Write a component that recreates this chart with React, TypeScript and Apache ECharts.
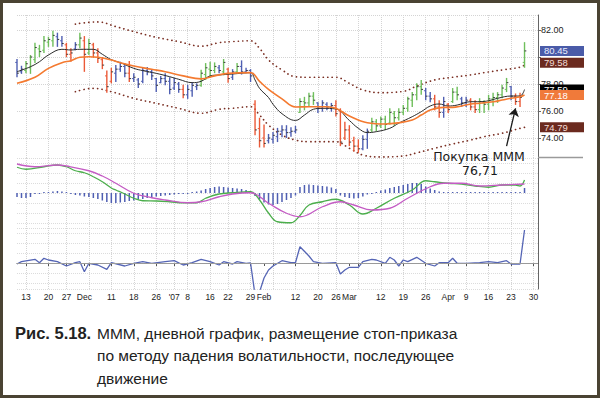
import React, { useEffect, useRef } from "react";
import * as echarts from "echarts";

// ---- trading days (category axis) ----
const MONTH_DAYS: [string, number[]][] = [
  ["2006-11", [9, 10, 13, 14, 15, 16, 17, 20, 21, 22, 24, 27, 28, 29, 30]],
  ["2006-12", [1, 4, 5, 6, 7, 8, 11, 12, 13, 14, 15, 18, 19, 20, 21, 22, 26, 27, 28, 29]],
  ["2007-01", [3, 4, 5, 8, 9, 10, 11, 12, 16, 17, 18, 19, 22, 23, 24, 25, 26, 29, 30, 31]],
  ["2007-02", [1, 2, 5, 6, 7, 8, 9, 12, 13, 14, 15, 16, 20, 21, 22, 23, 26, 27, 28]],
  ["2007-03", [1, 2, 5, 6, 7, 8, 9, 12, 13, 14, 15, 16, 19, 20, 21, 22, 23, 26, 27, 28, 29, 30]],
  ["2007-04", [2, 3, 4, 5, 9, 10, 11, 12, 13, 16, 17, 18, 19, 20, 23, 24, 25, 26, 27, 30]],
  ["2007-05", [1]],
];
const DATES: string[] = MONTH_DAYS.flatMap(([m, ds]) =>
  ds.map((d) => `${m}-${String(d).padStart(2, "0")}`)
);

const TICK_LABELS: [string, string][] = [
  ["2006-11-13", "13"], ["2006-11-20", "20"], ["2006-11-27", "27"], ["2006-12-01", "Dec"],
  ["2006-12-11", "11"], ["2006-12-18", "18"], ["2006-12-26", "26"], ["2007-01-03", "'07"],
  ["2007-01-08", "8"], ["2007-01-16", "16"], ["2007-01-22", "22"], ["2007-01-29", "29"],
  ["2007-02-01", "Feb"], ["2007-02-12", "12"], ["2007-02-20", "20"], ["2007-02-26", "26"],
  ["2007-03-01", "Mar"], ["2007-03-12", "12"], ["2007-03-19", "19"], ["2007-03-26", "26"],
  ["2007-04-02", "Apr"], ["2007-04-09", "9"], ["2007-04-16", "16"], ["2007-04-23", "23"],
  ["2007-04-30", "30"],
];
const WEEK_STARTS: string[] = [
  "2006-11-13", "2006-11-20", "2006-11-27", "2006-12-04", "2006-12-11", "2006-12-18",
  "2006-12-26", "2007-01-03", "2007-01-08", "2007-01-16", "2007-01-22", "2007-01-29",
  "2007-02-05", "2007-02-12", "2007-02-20", "2007-02-26", "2007-03-05", "2007-03-12",
  "2007-03-19", "2007-03-26", "2007-04-02", "2007-04-09", "2007-04-16", "2007-04-23",
  "2007-04-30",
];
const PRICE_TICKS_HIDDEN = [80]; // covered by the value boxes in the original

// ---- price bars ----
const HIGH = [
  79.85, 79.35, 79.7, 80.15, 81.05, 80.9, 81.55, 81.5, 81.95, 81.8,
  81.55, 81.05, 80.65, 81.1, 81.8, 81.55, 81.35, 81.05, 80.65, 80.0,
  79.0, 79.2, 79.4, 79.65, 79.55, 79.7, 78.8, 78.45, 79.25, 79.25,
  79.05, 78.45, 78.6, 78.8, 78.5, 78.45, 78.15, 77.95, 77.95, 78.15,
  78.05, 79.05, 79.55, 79.65, 79.6, 79.4, 79.85, 79.2, 79.1, 79.55,
  79.75, 79.2, 79.1, 76.8, 75.5, 75.0, 74.3, 74.45, 74.75, 74.95,
  74.95, 74.8, 74.9, 76.95, 77.05, 77.35, 77.4, 76.65, 76.8, 76.65,
  76.6, 76.8, 76.2, 75.2, 74.95, 74.1, 73.9, 74.2, 74.7, 75.5,
  75.4, 75.6, 75.65, 76.2, 76.0, 76.2, 76.45, 77.05, 77.4, 78.05,
  78.3, 77.7, 77.4, 77.2, 76.8, 77.05, 76.6, 77.7, 77.8, 77.05,
  77.05, 76.95, 76.8, 76.95, 76.8, 77.2, 77.35, 77.4, 77.95, 78.45,
  77.85, 77.3, 77.35, 81.1,
];
const LOW = [
  78.5, 78.75, 78.8, 78.75, 79.55, 80.0, 80.3, 80.75, 80.75, 80.75,
  80.75, 80.0, 79.65, 80.5, 80.65, 78.9, 80.15, 79.95, 79.55, 79.1,
  77.35, 78.05, 78.15, 78.9, 78.5, 78.15, 78.15, 77.7, 78.05, 78.65,
  78.3, 77.4, 78.05, 77.9, 77.25, 77.55, 77.35, 76.95, 76.9, 77.05,
  77.55, 77.8, 78.3, 78.5, 78.8, 78.8, 78.65, 78.1, 78.3, 78.8,
  78.7, 78.8, 78.15, 74.2, 73.3, 73.3, 73.6, 73.6, 73.7, 74.05,
  74.0, 74.1, 74.35, 75.85, 76.05, 76.3, 76.45, 75.85, 75.95, 76.05,
  75.95, 75.6, 73.4, 73.85, 73.4, 73.0, 72.9, 73.1, 73.2, 74.45,
  74.5, 74.75, 74.6, 75.0, 74.9, 75.3, 75.7, 75.95, 76.3, 76.8,
  77.2, 76.8, 76.65, 76.05, 75.5, 75.5, 75.85, 76.6, 76.8, 76.3,
  76.3, 76.05, 75.85, 75.85, 75.85, 76.05, 76.35, 76.6, 76.95, 77.4,
  76.8, 76.45, 76.3, 79.2,
];
const OPEN = [
  79.6, 78.9, 79.0, 79.2, 79.8, 80.6, 80.5, 81.1, 81.2, 81.5,
  81.2, 80.9, 80.2, 80.6, 80.9, 81.2, 80.3, 80.9, 80.3, 79.8,
  78.6, 78.2, 78.8, 79.1, 79.3, 78.8, 78.4, 78.3, 78.2, 79.0,
  78.9, 78.4, 78.1, 78.4, 78.2, 77.7, 78.0, 77.6, 77.2, 77.5,
  77.8, 77.9, 78.7, 79.1, 79.0, 79.2, 78.9, 79.1, 78.5, 78.9,
  79.3, 78.9, 79.0, 76.5, 74.7, 74.0, 73.8, 73.9, 74.1, 74.5,
  74.6, 74.4, 74.5, 75.9, 76.7, 76.6, 77.1, 76.6, 76.2, 76.5,
  76.3, 76.4, 76.0, 74.0, 74.6, 73.8, 73.4, 73.2, 73.9, 74.6,
  75.2, 74.9, 75.4, 75.1, 75.8, 75.5, 75.9, 76.2, 76.8, 77.2,
  77.8, 77.5, 77.1, 76.9, 76.3, 75.9, 76.5, 76.7, 77.4, 76.9,
  76.6, 76.8, 76.3, 76.1, 76.6, 76.5, 76.9, 77.0, 77.2, 77.6,
  77.8, 77.1, 76.7, 79.6,
];
const CLOSE = [
  78.8, 79.1, 79.5, 80.0, 80.7, 80.4, 81.2, 81.3, 81.6, 81.3,
  81.0, 80.2, 80.3, 80.9, 81.4, 80.2, 81.0, 80.3, 79.9, 79.4,
  77.8, 78.9, 79.1, 79.3, 78.8, 78.4, 78.5, 78.0, 79.0, 78.9,
  78.6, 77.9, 78.4, 78.2, 77.6, 78.1, 77.6, 77.2, 77.6, 77.9,
  77.9, 78.8, 79.2, 79.0, 79.3, 79.0, 79.6, 78.4, 78.9, 79.3,
  78.9, 79.0, 78.6, 74.6, 73.8, 73.6, 74.0, 74.2, 74.5, 74.6,
  74.4, 74.5, 74.6, 76.7, 76.6, 77.1, 76.8, 76.2, 76.6, 76.3,
  76.4, 75.8, 73.7, 74.6, 73.7, 73.4, 73.2, 73.9, 74.5, 75.2,
  74.9, 75.4, 75.0, 75.9, 75.5, 75.9, 76.2, 76.9, 77.2, 77.8,
  77.6, 77.1, 76.9, 76.3, 75.9, 76.7, 76.1, 77.4, 77.2, 76.6,
  76.8, 76.3, 76.1, 76.7, 76.5, 76.9, 77.0, 77.2, 77.7, 78.1,
  77.1, 76.7, 77.0, 80.45,
];
// Elder impulse colour of each bar: g = green, b = blue, r = red
const IMPULSE =
  "bbgggggggb" + "brrbgrgrrr" + "rrbbbrbbbb" + "bbbbbbbrbb" + "bggggbgrbg" +
  "bbbrrrbbbb" + "bbbggggbbb" + "brrrrrrbbg" + "gggggggggg" + "gbbrrbrggb" +
  "brrggggggg" + "brrg";

// ---- overlays: [day index, value] ----
const EMA_FAST: [number, number][] = [
  [0, 78.91], [3, 79.28], [5, 79.65], [7, 80.15], [10, 80.57], [12, 80.52], [14, 80.57],
  [17, 80.57], [19, 80.2], [21, 79.8], [23, 79.58], [26, 79.16], [28, 78.99], [31, 78.79],
  [34, 78.54], [36, 78.35], [39, 78.1], [41, 78.2], [43, 78.6], [45, 78.67], [48, 78.74],
  [52, 78.84], [53, 78.3], [54, 77.68], [56, 77.0], [57, 76.5], [59, 75.8], [62, 75.3],
  [64, 75.7], [66, 76.13], [68, 76.2], [71, 76.15], [74, 75.3], [76, 74.72], [78, 74.4],
  [80, 74.47], [83, 74.72], [85, 75.1], [88, 75.58], [90, 75.95], [92, 76.37], [94, 76.52],
  [96, 76.37], [98, 76.44], [101, 76.69], [103, 76.69], [105, 76.76], [107, 76.94],
  [110, 77.11], [112, 77.11], [113, 77.59],
];
const EMA_SLOW: [number, number][] = [
  [0, 78.05], [4, 78.5], [7, 79.16], [10, 79.58], [12, 79.73], [14, 79.98], [16, 80.02],
  [18, 79.98], [21, 79.78], [23, 79.58], [26, 79.33], [30, 79.09], [33, 78.91], [37, 78.6],
  [41, 78.38], [44, 78.6], [47, 78.79], [52, 78.84], [54, 78.2], [56, 77.6], [59, 76.9],
  [62, 76.3], [65, 76.32], [69, 76.32], [71, 76.2], [74, 75.63], [78, 75.13], [82, 75.04],
  [85, 75.13], [88, 75.33], [90, 75.7], [92, 76.07], [95, 76.27], [97, 76.27], [99, 76.37],
  [101, 76.52], [103, 76.57], [106, 76.69], [108, 76.81], [110, 76.94], [112, 77.05],
  [113, 77.18],
];
const UPPER_BAND: [number, number][] = [
  [13, 82.44], [18, 82.6], [22, 82.25], [26, 81.88], [31, 81.46], [36, 81.14], [41, 80.8],
  [45, 81.06], [48, 81.14], [52, 81.2], [54, 80.64], [56, 79.78], [59, 79.04], [62, 78.54],
  [65, 78.5], [71, 78.5], [74, 78.05], [77, 77.56], [81, 77.36], [86, 77.45], [89, 77.85],
  [93, 78.3], [97, 78.5], [101, 78.67], [104, 78.84], [108, 79.04], [112, 79.24], [113, 79.4],
];
const LOWER_BAND: [number, number][] = [
  [13, 77.43], [17, 77.68], [21, 77.43], [26, 76.94], [31, 76.57], [36, 76.2], [41, 75.83],
  [45, 76.13], [48, 76.2], [52, 76.32], [54, 75.7], [56, 74.96], [59, 74.22], [62, 73.85],
  [65, 73.73], [71, 73.73], [74, 73.24], [77, 72.74], [81, 72.6], [86, 72.67], [89, 72.9],
  [93, 73.24], [97, 73.56], [101, 73.85], [104, 74.1], [108, 74.35], [112, 74.72], [113, 74.79],
];
const LAST_PRICE = 80.45;
const LAST_UPPER = 79.58;
const LAST_FAST = 77.59;
const LAST_SLOW = 77.18;
const LAST_LOWER = 74.79;
const BUY_NOTE = ["Покупка МММ", "76,71"];

// ---- MACD panel ----
const MACD_LINE: [number, number][] = [
  [0, 1.03], [2, 0.95], [6, 1.05], [9, 1.12], [11, 1.05], [13, 0.89], [15, 0.81], [17, 0.65],
  [19, 0.45], [21, 0.2], [22, 0.12], [24, -0.04], [26, -0.21], [28, -0.31], [31, -0.32],
  [34, -0.35], [37, -0.39], [40, -0.39], [42, -0.21], [45, -0.04], [48, 0.01], [52, 0.05],
  [54, -0.28], [56, -0.8], [58, -1.15], [61, -1.19], [63, -0.9], [65, -0.48], [68, -0.35],
  [71, -0.25], [74, -0.48], [77, -0.84], [80, -0.61], [84, -0.21], [88, 0.12], [91, 0.49],
  [93, 0.45], [96, 0.39], [99, 0.36], [102, 0.28], [105, 0.23], [108, 0.32], [111, 0.32],
  [112, 0.28], [113, 0.52],
];
const SIGNAL_LINE: [number, number][] = [
  [0, 1.16], [4, 1.05], [9, 1.12], [11, 1.08], [16, 0.89], [19, 0.68], [22, 0.39], [26, -0.01],
  [30, -0.19], [33, -0.28], [38, -0.39], [41, -0.35], [45, -0.15], [48, -0.04], [52, 0.01],
  [56, -0.41], [60, -0.81], [63, -0.95], [68, -0.55], [72, -0.35], [75, -0.48], [79, -0.68],
  [83, -0.61], [87, -0.21], [92, 0.25], [95, 0.39], [99, 0.39], [103, 0.28], [108, 0.32],
  [113, 0.36],
];
const HISTOGRAM = [
  -0.16, -0.2, -0.2, -0.16, -0.04, -0.04, 0.04, 0.04, 0.06, 0.08,
  0.06, 0.04, -0.04, -0.08, -0.1, -0.14, -0.16, -0.2, -0.24, -0.3,
  -0.36, -0.4, -0.4, -0.38, -0.36, -0.32, -0.3, -0.26, -0.24, -0.2,
  -0.18, -0.14, -0.12, -0.1, -0.08, -0.06, -0.04, -0.04, -0.04, 0.04,
  0.06, 0.1, 0.16, 0.2, 0.24, 0.26, 0.24, 0.22, 0.2, 0.18,
  0.16, 0.12, 0.08, -0.12, -0.26, -0.38, -0.46, -0.48, -0.44, -0.36,
  -0.28, -0.2, -0.1, 0.24, 0.32, 0.34, 0.32, 0.3, 0.28, 0.26,
  0.22, 0.16, -0.1, -0.16, -0.2, -0.22, -0.2, -0.14, -0.06, -0.04,
  0.04, 0.1, 0.14, 0.2, 0.24, 0.28, 0.32, 0.36, 0.4, 0.4,
  0.36, 0.26, 0.18, 0.12, 0.06, 0.04, 0.04, 0.04, 0.04, 0.04,
  0.04, 0.04, 0.04, 0.04, 0.04, 0.04, 0.04, 0.04, 0.04, 0.04,
  0.04, 0.04, 0.04, 0.2,
];

// ---- Force index panel ----
const FORCE_INDEX: [number, number][] = [
  [0, -0.1], [1, 0.13], [4, 0.37], [5, 0.03], [6, 0.47], [7, 0.3], [9, 0.13], [11, -0.3],
  [13, 0.03], [14, 0.13], [15, -0.87], [16, -0.03], [18, -0.2], [20, -0.63], [21, 0.03],
  [24, -0.3], [26, -0.03], [28, 0.13], [30, -0.03], [33, 0.13], [35, 0.23], [37, -0.2],
  [39, 0.03], [41, 0.37], [43, 0.13], [45, -0.2], [46, 0.13], [48, -0.1], [49, 0.13],
  [51, -0.03], [52, 0.0], [53, -3.2], [54, -2.9], [55, -1.5], [56, -0.7], [57, -0.3],
  [59, 0.23], [61, 0.03], [62, 0.03], [63, 1.63], [65, 0.7], [66, 0.13], [68, -0.03],
  [71, 0.03], [72, -1.1], [73, -0.7], [74, -0.43], [76, -0.43], [77, 0.13], [79, 0.37],
  [80, 0.3], [82, -0.03], [83, 0.57], [84, 0.3], [85, -0.3], [86, 0.3], [87, 0.13],
  [89, 0.57], [91, -0.03], [93, -0.3], [94, 0.03], [96, 0.03], [97, 0.47], [98, -0.03],
  [100, -0.03], [103, 0.03], [105, 0.13], [107, 0.03], [109, 0.23], [110, -0.1],
  [112, -0.1], [113, 3.3],
];

const CAPTION_LABEL = "Рис. 5.18.";
const CAPTION_LINES = [
  "МММ, дневной график, размещение стоп-приказа",
  "по методу падения волатильности, последующее",
  "движение",
];

const IMPULSE_COLORS: Record<string, string> = { g: "#6fbf5c", b: "#4f5fb2", r: "#eb5a38" };
const FONT = "Liberation Sans, Arial, sans-serif";

export default function App() {
  const ref = useRef<HTMLDivElement>(null);

  useEffect(() => {
    if (!ref.current) return;
    const chart = echarts.init(ref.current, null, { renderer: "svg" });

    const labelMap = new Map(TICK_LABELS);
    const weekSet = new Set(WEEK_STARTS);
    const bars = HIGH.map((h, i) => [i, OPEN[i], CLOSE[i], LOW[i], h, "gbr".indexOf(IMPULSE[i])]);
    const colorByCode = ["g", "b", "r"].map((k) => IMPULSE_COLORS[k]);

    const gridCommon = { left: 17, right: 62 };
    const grids = [
      { ...gridCommon, top: 15, height: 143 },
      { ...gridCommon, top: 158, height: 70 },
      { ...gridCommon, top: 228, height: 61 },
    ];

    const xAxes = [0, 1, 2].map((k) => ({
      type: "category",
      gridIndex: k,
      data: DATES,
      boundaryGap: false,
      axisLine: { show: k === 2, lineStyle: { color: "#555", width: 1 } },
      axisTick: {
        show: k === 2,
        length: 3,
        interval: (_i: number, v: string) => weekSet.has(v) || labelMap.has(v),
        lineStyle: { color: "#555" },
      },
      axisLabel: {
        show: k === 2,
        interval: (_i: number, v: string) => labelMap.has(v),
        formatter: (v: string) => labelMap.get(v) ?? "",
        fontSize: 8.5,
        fontFamily: FONT,
        color: "#222",
        margin: 3,
      },
      splitLine: {
        show: true,
        interval: (_i: number, v: string) => weekSet.has(v),
        lineStyle: { color: "#d4d4d4", type: "dotted", width: 1 },
      },
    }));

    const yAxes = [
      {
        type: "value",
        gridIndex: 0,
        position: "right",
        min: 72.52,
        max: 83.11,
        minInterval: 2,
        maxInterval: 2,
        axisLine: { show: true, lineStyle: { color: "#666" } },
        axisTick: { show: true, length: 3, lineStyle: { color: "#666" } },
        axisLabel: {
          show: true,
          showMinLabel: false,
          showMaxLabel: false,
          formatter: (v: number) => (PRICE_TICKS_HIDDEN.includes(v) ? "" : v.toFixed(2)),
          fontSize: 9,
          fontFamily: FONT,
          color: "#222",
          margin: 3,
        },
        splitLine: { show: true, lineStyle: { color: "#d4d4d4", type: "dotted" } },
      },
      {
        type: "value",
        gridIndex: 1,
        position: "right",
        min: -1.4,
        max: 1.4,
        minInterval: 0.4,
        maxInterval: 0.4,
        axisLine: { show: true, lineStyle: { color: "#666" } },
        axisTick: { show: false },
        axisLabel: { show: false },
        splitLine: { show: true, lineStyle: { color: "#dcdcdc", type: "dotted" } },
      },
      {
        type: "value",
        gridIndex: 2,
        position: "right",
        min: -2.6,
        max: 3.5,
        minInterval: 1,
        maxInterval: 1,
        axisLine: { show: true, lineStyle: { color: "#666" } },
        axisTick: { show: false },
        axisLabel: { show: false },
        splitLine: { show: true, lineStyle: { color: "#dcdcdc", type: "dotted" } },
      },
    ];

    const boxLabel = (text: string, bg: string, fg: string) => ({
      show: true,
      position: "end",
      formatter: text,
      distance: 2,
      backgroundColor: bg,
      color: fg,
      fontSize: 9.5,
      fontFamily: FONT,
      lineHeight: 10,
      padding: [0, 3, 0, 4],
      width: 37,
      opacity: 1,
    });
    const hiddenLine = { color: "rgba(0,0,0,0)", width: 1, type: "solid" };

    const option: any = {
      animation: false,
      backgroundColor: "#ffffff",
      grid: grids,
      xAxis: xAxes,
      yAxis: yAxes,
      series: [
        {
          type: "custom",
          name: "bars",
          xAxisIndex: 0,
          yAxisIndex: 0,
          data: bars,
          encode: { x: 0, y: [1, 2, 3, 4] },
          renderItem: (_p: any, api: any) => {
            const x = api.value(0);
            const o = api.coord([x, api.value(1)]);
            const c = api.coord([x, api.value(2)]);
            const l = api.coord([x, api.value(3)]);
            const h = api.coord([x, api.value(4)]);
            const col = colorByCode[api.value(5)] || IMPULSE_COLORS.b;
            return {
              type: "group",
              children: [
                { type: "line", shape: { x1: h[0], y1: h[1], x2: l[0], y2: l[1] }, style: { stroke: col, lineWidth: 1.4 } },
                { type: "line", shape: { x1: o[0] - 1.8, y1: o[1], x2: o[0], y2: o[1] }, style: { stroke: col, lineWidth: 1 } },
                { type: "line", shape: { x1: c[0], y1: c[1], x2: c[0] + 1.8, y2: c[1] }, style: { stroke: "#3a3a3a", lineWidth: 1 } },
              ],
            };
          },
          markLine: {
            silent: true,
            symbol: ["none", "arrow"],
            symbolSize: 8,
            label: { show: false },
            lineStyle: { color: "#1a1a1a", width: 1.3, type: "solid" },
            data: [[{ coord: [DATES[109], 73.4] }, { coord: [DATES[111], 76.2] }]],
          },
          z: 3,
        },
        {
          type: "line",
          name: "ema13",
          xAxisIndex: 0,
          yAxisIndex: 0,
          data: EMA_FAST,
          smooth: 0.4,
          symbol: "none",
          lineStyle: { color: "#2b2b2b", width: 1 },
          markLine: {
            silent: true,
            symbol: "none",
            lineStyle: hiddenLine,
            label: boxLabel(LAST_FAST.toFixed(2), "#000000", "#ffffff"),
            data: [{ yAxis: LAST_FAST }],
          },
          z: 4,
        },
        {
          type: "line",
          name: "ema26",
          xAxisIndex: 0,
          yAxisIndex: 0,
          data: EMA_SLOW,
          smooth: 0.4,
          symbol: "none",
          lineStyle: { color: "#f47a30", width: 1.6 },
          markLine: {
            silent: true,
            symbol: "none",
            lineStyle: hiddenLine,
            label: boxLabel(LAST_SLOW.toFixed(2), "#f07a3a", "#ffffff"),
            data: [{ yAxis: LAST_SLOW }],
          },
          z: 5,
        },
        {
          type: "line",
          name: "upper",
          xAxisIndex: 0,
          yAxisIndex: 0,
          data: UPPER_BAND,
          smooth: 0.4,
          symbol: "none",
          lineStyle: { color: "#7a2e22", width: 1.7, type: [0.1, 4.4], cap: "round" },
          markLine: {
            silent: true,
            symbol: "none",
            lineStyle: hiddenLine,
            label: boxLabel(LAST_UPPER.toFixed(2), "#6b2a1f", "#f3dcd6"),
            data: [
              { yAxis: LAST_PRICE, label: boxLabel(LAST_PRICE.toFixed(2), "#4a5ba8", "#e8ecff") },
              { yAxis: LAST_UPPER },
            ],
          },
          z: 2,
        },
        {
          type: "line",
          name: "lower",
          xAxisIndex: 0,
          yAxisIndex: 0,
          data: LOWER_BAND,
          smooth: 0.4,
          symbol: "none",
          lineStyle: { color: "#7a2e22", width: 1.7, type: [0.1, 4.4], cap: "round" },
          markLine: {
            silent: true,
            symbol: "none",
            lineStyle: hiddenLine,
            label: boxLabel(LAST_LOWER.toFixed(2), "#6b2a1f", "#f3dcd6"),
            data: [{ yAxis: LAST_LOWER }],
          },
          z: 2,
        },
        {
          type: "bar",
          name: "hist",
          xAxisIndex: 1,
          yAxisIndex: 1,
          data: HISTOGRAM,
          barWidth: 1.5,
          barMinHeight: 1,
          itemStyle: { color: "#4f5fb2" },
          z: 2,
        },
        {
          type: "line",
          name: "macd",
          xAxisIndex: 1,
          yAxisIndex: 1,
          data: MACD_LINE,
          smooth: 0.4,
          symbol: "none",
          lineStyle: { color: "#4cae4c", width: 1.3 },
          z: 3,
        },
        {
          type: "line",
          name: "signal",
          xAxisIndex: 1,
          yAxisIndex: 1,
          data: SIGNAL_LINE,
          smooth: 0.4,
          symbol: "none",
          lineStyle: { color: "#c45cc4", width: 1.3 },
          z: 3,
        },
        {
          type: "line",
          name: "force",
          xAxisIndex: 2,
          yAxisIndex: 2,
          data: FORCE_INDEX,
          symbol: "none",
          clip: true,
          lineStyle: { color: "#5565b5", width: 1.3 },
          markLine: {
            silent: true,
            symbol: "none",
            label: { show: false },
            lineStyle: { color: "#9a9a9a", width: 1.2, type: "solid" },
            data: [{ yAxis: 0 }],
          },
          z: 3,
        },
      ],
      graphic: [
        {
          type: "rect",
          shape: { x: 1.5, y: 1.5, width: 597, height: 395 },
          style: { fill: "none", stroke: "#4a4333", lineWidth: 3 },
          z: 100,
        },
        {
          type: "line",
          shape: { x1: 538, y1: 157.5, x2: 583, y2: 157.5 },
          style: { stroke: "#9a9a9a", lineWidth: 1.5 },
          z: 100,
        },
        {
          type: "text",
          x: 479,
          y: 156,
          style: { text: BUY_NOTE[0], fontSize: 12.5, fontFamily: "DejaVu Sans", fill: "#1a1a1a", align: "center", verticalAlign: "middle" },
          z: 100,
        },
        {
          type: "text",
          x: 480,
          y: 170,
          style: { text: BUY_NOTE[1], fontSize: 12.5, fontFamily: "DejaVu Sans", fill: "#1a1a1a", align: "center", verticalAlign: "middle" },
          z: 100,
        },
        {
          type: "text",
          x: 15,
          y: 333,
          style: { text: CAPTION_LABEL, fontSize: 16.5, fontWeight: "bold", fontFamily: FONT, fill: "#222", verticalAlign: "middle" },
          z: 100,
        },
        ...CAPTION_LINES.map((t, k) => ({
          type: "text",
          x: 97,
          y: 333 + k * 22.5,
          style: { text: t, fontSize: 15.5, fontFamily: FONT, fill: "#222", verticalAlign: "middle" },
          z: 100,
        })),
      ],
    };

    chart.setOption(option);
    return () => chart.dispose();
  }, []);

  return (
    <div style={{ position: "fixed", left: 0, top: 0, width: 600, height: 398, background: "#fff" }}>
      <div ref={ref} style={{ width: 600, height: 398 }} />
    </div>
  );
}
